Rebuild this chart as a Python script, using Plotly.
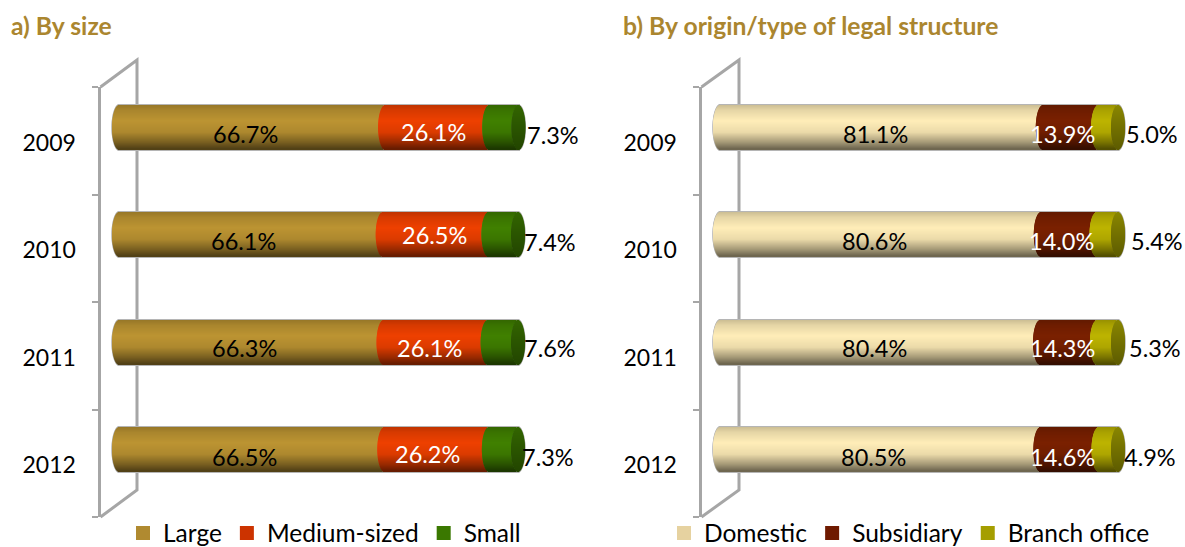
import math
import plotly.graph_objects as go

W, H = 1185, 547

# ---- data ----
years = ["2009", "2010", "2011", "2012"]

size_names = ["Large", "Medium-sized", "Small"]
large = [66.7, 66.1, 66.3, 66.5]
medium = [26.1, 26.5, 26.1, 26.2]
small = [7.3, 7.4, 7.6, 7.3]

origin_names = ["Domestic", "Subsidiary", "Branch office"]
domestic = [81.1, 80.6, 80.4, 80.5]
subsidiary = [13.9, 14.0, 14.3, 14.6]
branch = [5.0, 5.4, 5.3, 4.9]

# ---- styling ----
ROW_PX = 107.5
BAR_PX = 44
N_STRIPS = 44
BAR_SHIFT_PX = -13.5
FONT = "Lato"
GREY = "#A6A6A6"


def px_x(x):
    return x / W


def px_y(y):
    return 1 - y / H


def shade(hex_colour, f):
    r, g, b = (int(hex_colour[i:i + 2], 16) for i in (1, 3, 5))
    c = [v * f for v in (r, g, b)]
    return "rgb(%d,%d,%d)" % tuple(round(v) for v in c)


def gradient(t):
    """Brightness across the cylinder, t from 0 (top) to 1 (bottom)."""
    stops = [(0, .80), (.12, .90), (.36, 1.0), (.62, .92), (.85, .64), (1, .42)]
    for (a, fa), (b, fb) in zip(stops, stops[1:]):
        if t <= b:
            return fa + (fb - fa) * (t - a) / (b - a)
    return stops[-1][1]


def panel(fig, n, names, series, body, legend_cols, cap, zero_px, front_px, back_px,
          scale, text_cols, nudges, right_px, legend_name):
    xa = "x" if n == 1 else "x%d" % n
    ya = "y" if n == 1 else "y%d" % n
    a = 7.0 / scale
    strips = [(k + .5) / N_STRIPS for k in range(N_STRIPS)]
    step = BAR_PX / N_STRIPS / ROW_PX
    shift = BAR_SHIFT_PX / ROW_PX

    def bulge(t):
        return a * math.sqrt(max(0, 1 - (2 * t - 1) ** 2))

    totals = [sum(s[i] for s in series) for i in range(len(years))]

    # thin grey rim behind the cylinder
    rim_y, rim_base, rim_x, rim_w = [], [], [], []
    for i in range(len(years)):
        for k in range(BAR_PX + 2):
            t = (k + .5) / (BAR_PX + 2)
            rim_y.append(i + shift + (t - .5) * (BAR_PX + 2) / ROW_PX)
            b = bulge(t) * 1.08
            rim_base.append(-b)
            rim_x.append(totals[i] + 2 * b)
            rim_w.append(1.4 / ROW_PX)
    fig.add_trace(go.Bar(orientation="h", y=rim_y, x=rim_x, base=rim_base, width=rim_w,
                         marker=dict(color="#B5B5B5", line_width=0), xaxis=xa, yaxis=ya,
                         showlegend=False, hoverinfo="skip"))

    cum = [0.0] * len(years)
    for name, vals, col in zip(names, series, body):
        ys, xs, bases, cols, ws = [], [], [], [], []
        for i, v in enumerate(vals):
            for t in strips:
                ys.append(i + shift + (t - .5) * BAR_PX / ROW_PX)
                xs.append(v)
                bases.append(cum[i] - bulge(t))
                cols.append(shade(col, gradient(t)))
                ws.append(step * 1.4)
        fig.add_trace(go.Bar(orientation="h", y=ys, x=xs, base=bases, width=ws,
                             marker=dict(color=cols, line_width=0), xaxis=xa, yaxis=ya,
                             showlegend=False, hoverinfo="skip"))
        cum = [c + v for c, v in zip(cum, vals)]

    # end cap
    ys, xs, bases, cols, ws = [], [], [], [], []
    for i in range(len(years)):
        for t in strips:
            b = bulge(t)
            ys.append(i + shift + (t - .5) * BAR_PX / ROW_PX)
            xs.append(2 * b)
            bases.append(cum[i] - b)
            cols.append(shade(cap, .75 + .35 * (1 - t)))
            ws.append(step * 1.4)
    fig.add_trace(go.Bar(orientation="h", y=ys, x=xs, base=bases, width=ws,
                         marker=dict(color=cols, line_width=0), xaxis=xa, yaxis=ya,
                         showlegend=False, hoverinfo="skip"))

    # legend entries
    for name, col in zip(names, legend_cols):
        fig.add_trace(go.Scatter(mode="markers", x=[None], y=[None], name=name,
                                 marker=dict(color=col, symbol="square", size=14),
                                 xaxis=xa, yaxis=ya, legend=legend_name, hoverinfo="skip"))

    # value labels
    anns = []
    cum = [0.0] * len(years)
    for s_idx, vals in enumerate(series):
        for i, v in enumerate(vals):
            dx, dy = nudges[s_idx][i]
            last = s_idx == len(series) - 1
            x = cum[i] + (v if last else v / 2) - a
            anns.append(dict(x=x, y=i + shift, xref=xa, yref=ya, text="%.1f%%" % v,
                             showarrow=False, xshift=dx, yshift=dy,
                             font=dict(family=FONT, size=23.5, color=text_cols[s_idx])))
        cum = [c + v for c, v in zip(cum, vals)]

    top, bottom, back_dy = 87, 517, 27
    shape = dict(type="path", xref="paper", yref="paper", layer="below",
                 line=dict(color=GREY, width=3),
                 path="M%f,%f L%f,%f L%f,%f L%f,%f" % (
                     px_x(front_px), px_y(top), px_x(back_px), px_y(top - back_dy),
                     px_x(back_px), px_y(bottom - back_dy), px_x(front_px), px_y(bottom)))

    xaxis = dict(domain=[px_x(front_px), px_x(right_px)], visible=False,
                 range=[(front_px - zero_px) / scale, (right_px - zero_px) / scale],
                 anchor=ya, fixedrange=True)
    yaxis = dict(domain=[px_y(bottom), px_y(top)], range=[3.5, -0.5], anchor=xa,
                 tickmode="array", tickvals=list(range(len(years))), ticktext=years,
                 ticks="", showgrid=False, zeroline=False, showline=True,
                 linecolor=GREY, linewidth=3, ticklabelstandoff=17, ticklabelshift=-2,
                 tickfont=dict(family=FONT, size=23, color="#000000"),
                 minor=dict(tickmode="array", tickvals=[-.5, .5, 1.5, 2.5, 3.5], ticks="outside",
                            ticklen=6, tickwidth=1.5, tickcolor=GREY, showgrid=False),
                 fixedrange=True)
    return xaxis, yaxis, anns, shape


fig = go.Figure()

nudge_a = [
    [(0, -7), (0, -6), (0, -6), (0, -7)],
    [(3, -5), (6, 0), (1, -6), (-2, -4)],
    [(42, -8), (39, -7), (39, -6), (37, -7)],
]
nudge_b = [
    [(1, -7), (1, -6), (1, -6), (0, -7)],
    [(-1, -7), (0, -6), (1, -6), (0, -7)],
    [(41, -7), (46, -6), (44, -6), (39, -7)],
]

xa1, ya1, an1, sh1 = panel(
    fig, 1, size_names, [large, medium, small],
    ["#BC9432", "#EE4000", "#408000"], ["#B08A30", "#CC3300", "#3A7800"], "#2E5C00",
    119, 100.5, 137, 3.99, ["#000000", "#FFFFFF", "#000000"], nudge_a, 590, "legend")
xa2, ya2, an2, sh2 = panel(
    fig, 2, origin_names, [domestic, subsidiary, branch],
    ["#FFEDB8", "#7A2000", "#BDB400"], ["#E6D2A0", "#6F1A00", "#A59E00"], "#7D7A00",
    720, 701.5, 739, 3.98, ["#000000", "#FFFFFF", "#000000"], nudge_b, 1185, "legend2")

title_font = dict(family=FONT, size=24.7, color="#AB862F")
titles = [
    dict(x=px_x(9), y=px_y(26), xref="paper", yref="paper", xanchor="left", yanchor="middle",
         text="<b>a) By size</b>", showarrow=False, font=title_font),
    dict(x=px_x(621), y=px_y(26), xref="paper", yref="paper", xanchor="left", yanchor="middle",
         text="<b>b) By origin/type of legal structure</b>", showarrow=False, font=title_font),
]

legend_style = dict(orientation="h", yanchor="middle", xanchor="left", y=px_y(533),
                    itemsizing="trace",
                    font=dict(family=FONT, size=24.5, color="#000000"),
                    bgcolor="rgba(0,0,0,0)", traceorder="normal")

fig.update_layout(
    width=W, height=H, margin=dict(l=0, r=0, t=0, b=0, autoexpand=False),
    paper_bgcolor="#FFFFFF", plot_bgcolor="rgba(0,0,0,0)",
    barmode="overlay", hovermode=False,
    xaxis=xa1, yaxis=ya1, xaxis2=xa2, yaxis2=ya2,
    annotations=an1 + an2 + titles, shapes=[sh1, sh2],
    legend=dict(x=px_x(123), **legend_style),
    legend2=dict(x=px_x(664), **legend_style),
)

fig.write_html("out.html", config={"displayModeBar": False},
               post_script="document.body.style.margin='0';document.documentElement.style.overflow='hidden';")
